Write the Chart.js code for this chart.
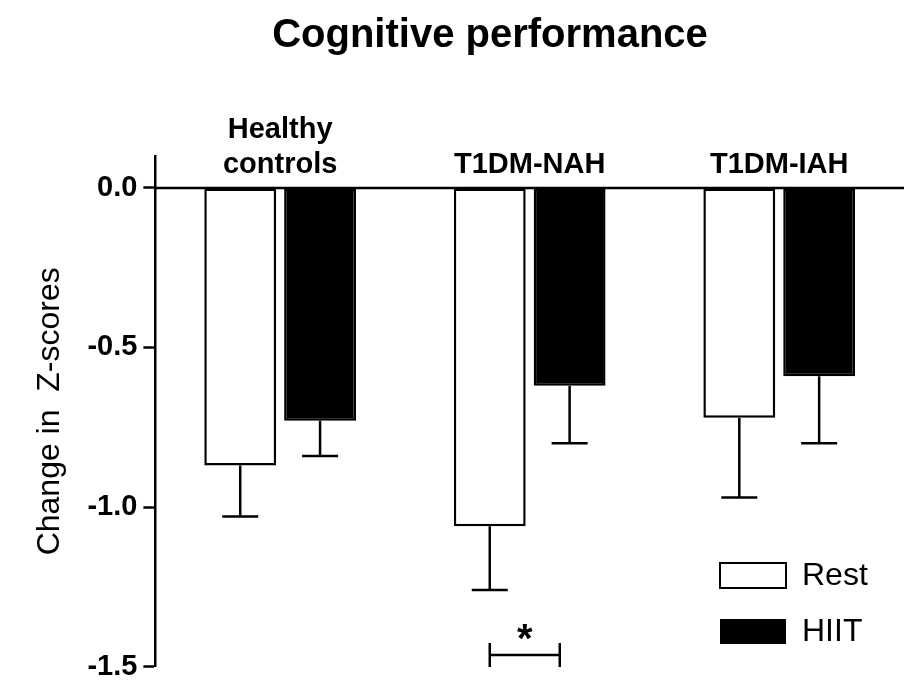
<!DOCTYPE html><html><head><script src="https://cdn.jsdelivr.net/npm/chart.js@4"></script>
<style>body{margin:0;background:#fff}</style></head><body>
<canvas id="c" width="904" height="690"></canvas>
<script>
const categories=[["Healthy","controls"],["T1DM-NAH"],["T1DM-IAH"]];
const restValues=[-0.87,-1.06,-0.72];
const hiitValues=[-0.73,-0.62,-0.59];
const restErr=[0.16,0.20,0.25];
const hiitErr=[0.11,0.18,0.21];
const yTicks=[0,-0.5,-1.0,-1.5];
const F='"Liberation Sans", Arial, sans-serif';
const extras={id:'extras',afterDatasetsDraw(ch){
 const c=ch.ctx,y=ch.scales.y,a=ch.chartArea;
 c.save();c.strokeStyle='#000';c.lineWidth=2.5;
 [restErr,hiitErr].forEach((errs,di)=>{
  ch.getDatasetMeta(di).data.forEach((b,i)=>{
   const v=ch.data.datasets[di].data[i];const y1=y.getPixelForValue(v-errs[i]);
   c.beginPath();c.moveTo(b.x,b.y);c.lineTo(b.x,y1);c.moveTo(b.x-18,y1);c.lineTo(b.x+18,y1);c.stroke();
  });});
 c.beginPath();c.moveTo(a.left,y.getPixelForValue(0));c.lineTo(904,y.getPixelForValue(0));c.stroke();
 c.fillStyle='#000';c.font='bold 29px '+F;c.textAlign='center';c.textBaseline='alphabetic';
 const m0=ch.getDatasetMeta(0).data,m1=ch.getDatasetMeta(1).data;
 categories.forEach((lab,i)=>{const x=(m0[i].x+m1[i].x)/2;const base=y.getPixelForValue(0)-15;
  lab.forEach((t,k)=>c.fillText(t,x,base-(lab.length-1-k)*35));});
 c.font='bold 40px '+F;c.fillText('Cognitive performance',490,47);
 const xs=m0[1].x,xe=m0[1].x+70,yb=655;
 c.beginPath();c.moveTo(xs,yb);c.lineTo(xe,yb);c.moveTo(xs,yb-12);c.lineTo(xs,yb+12);c.moveTo(xe,yb-12);c.lineTo(xe,yb+12);c.stroke();
 c.font='bold 40px '+F;c.fillText('*',(xs+xe)/2,652);
 c.font='32px '+F;c.textAlign='left';c.textBaseline='middle';
 c.lineWidth=2;c.strokeRect(720,563,66,25);c.fillText('Rest',802,576);
 c.fillRect(720,619,66,25);c.fillText('HIIT',802,632);
 c.restore();}};
new Chart(document.getElementById('c'),{type:'bar',
 data:{labels:categories.map(l=>l.join(' ')),datasets:[
  {data:restValues,backgroundColor:'#fff',borderColor:'#000',borderWidth:2.5,borderSkipped:false},
  {data:hiitValues,backgroundColor:'#000',borderColor:'#000',borderWidth:2.5,borderSkipped:false}]},
 options:{responsive:false,animation:false,events:[],
  layout:{padding:{top:156,bottom:15,right:0,left:27}},
  datasets:{bar:{categoryPercentage:0.64,barPercentage:0.9}},
  plugins:{legend:{display:false},tooltip:{enabled:false}},
  scales:{x:{display:false},
   y:{min:-1.5,max:0.1,afterBuildTicks(ax){ax.ticks=yTicks.map(v=>({value:v}));},
    grid:{display:true,drawOnChartArea:false,drawTicks:true,tickLength:12,tickWidth:2.5,tickColor:'#000'},
    border:{display:true,color:'#000',width:2.5},
    ticks:{color:'#000',font:{family:F,size:29,weight:'bold'},padding:6,callback:v=>v.toFixed(1)},
    title:{display:true,text:'Change in  Z-scores',color:'#000',font:{family:F,size:32},padding:{bottom:12}}}}},
 plugins:[extras]});
</script></body></html>
